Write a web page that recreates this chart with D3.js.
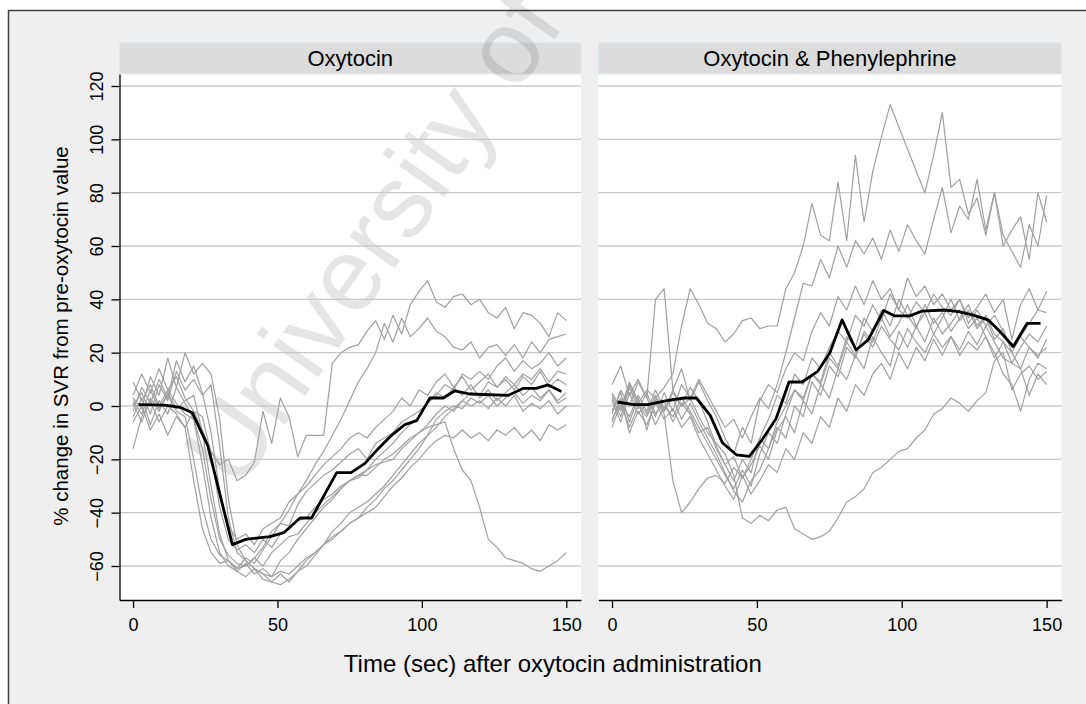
<!DOCTYPE html>
<html>
<head>
<meta charset="utf-8">
<script src="https://cdn.jsdelivr.net/npm/d3@7"></script>
<style>
  html, body { margin: 0; padding: 0; background: #fff; }
  svg { display: block; font-family: "Liberation Sans", Arial, Helvetica, sans-serif; }
</style>
</head>
<body>
<div id="chart"></div>
<script>
// sample times (sec) shared by every individual trace
const sampleTimes = [0, 3, 6, 9, 12, 15, 18, 21, 24, 27, 30, 33, 36, 39, 42, 45, 48, 51, 54, 57,
  60, 63, 66, 69, 72, 75, 78, 81, 84, 87, 90, 93, 96, 99, 102, 105, 108, 111, 114, 117,
  120, 123, 126, 129, 132, 135, 138, 141, 144, 147, 150];

const panelTitles = ["Oxytocin", "Oxytocin & Phenylephrine"];
const xTicks = [0, 50, 100, 150];
const yTicks = [-60, -40, -20, 0, 20, 40, 60, 80, 100, 120];

// % change in SVR, one array per patient (Oxytocin group)
const oxytocinTraces = [
  [4, 12, 5, 14, 6, 11, 3, -2, -9, -17, -22, -20, -28, -26, -21, -2, -14, 3, -4, -19,
   -11, -11, -11, 16, 20, 22, 23, 28, 32, 25, 34, 27, 38, 43, 47, 39, 37, 41, 42, 38,
   40, 35, 33, 37, 29, 35, 34, 31, 26, 35, 32],
  [2, -3, 6, -1, 4, -2, -4, -20, -38, -50, -56, -58, -61, -57, -59, -54, -49, -44, -39, -33,
   -28, -22, -17, -11, -5, 2, 9, 14, 20, 31, 24, 33, 26, 29, 33, 28, 26, 22, 21, 24,
   18, 22, 23, 19, 23, 18, 24, 20, 25, 26, 27],
  [-4, 3, -7, 2, -3, 7, 1, -5, -22, -42, -55, -60, -62, -59, -63, -61, -64, -58, -55, -50,
   -46, -42, -38, -35, -31, -28, -26, -24, -20, -17, -14, -10, -7, -4, 1, 4, 8, 6, 12, 10,
   13, 10, 15, 18, 13, 17, 14, 16, 20, 15, 18],
  [1, -6, 3, -2, 5, -1, 2, 4, -10, -30, -48, -58, -62, -64, -61, -65, -66, -63, -66, -62,
   -58, -55, -52, -49, -47, -44, -42, -38, -35, -31, -28, -24, -20, -16, -11, -8, -4, -1, 2, 5,
   4, 9, 7, 11, 8, 12, 10, 14, 9, 13, 12],
  [9, 2, 8, 0, 6, 1, -3, -5, -16, -35, -50, -56, -59, -60, -57, -53, -47, -44, -45, -37,
   -32, -29, -26, -24, -21, -18, -16, -20, -14, -12, -10, -6, -4, -2, 1, 5, 3, 7, 4, 8,
   3, 6, 2, 5, 8, 4, 7, 3, 6, 2, 5],
  [-6, 0, -9, -3, -11, -4, -8, -2, -4, -18, -38, -50, -54, -52, -55, -50, -53, -48, -46, -43,
   -42, -38, -35, -33, -30, -28, -27, -24, -22, -21, -20, -16, -13, -10, -7, -3, 0, -2, 2, 0,
   2, -1, 3, 0, 4, -2, 1, -1, 2, -3, 0],
  [0, 5, -3, 8, 2, 13, 6, 10, 4, 8, -15, -42, -55, -58, -61, -63, -64, -62, -63, -60,
   -57, -55, -52, -50, -47, -44, -42, -40, -38, -34, -30, -27, -23, -20, -16, -13, -11, -12, -9, -12,
   -10, -13, -9, -11, -8, -12, -9, -13, -7, -9, -7],
  [-16, -4, 2, -6, 0, -3, -8, -28, -46, -55, -59, -58, -61, -60, -57, -60, -55, -52, -49, -48,
   -44, -40, -37, -34, -31, -28, -26, -26, -23, -20, -18, -15, -12, -10, -8, -7, -6, -16, -24, -28,
   -38, -50, -53, -57, -58, -59, -61, -62, -60, -58, -55],
  [-2, 7, 1, 10, 3, 17, 9, 15, 5, -10, -32, -45, -50, -48, -52, -46, -44, -42, -36, -33,
   -30, -26, -22, -19, -16, -12, -10, -12, -8, -5, -2, 3, 0, 6, 4, 9, 12, 7, 11, 6,
   9, 12, 7, 10, 6, 11, 8, 13, 7, 10, 8],
  [3, -1, 11, 4, 18, 7, 20, 12, 16, 12, -5, -35, -52, -58, -61, -63, -66, -67, -65, -62,
   -60, -56, -52, -47, -44, -40, -38, -36, -33, -30, -26, -22, -18, -14, -11, -5, -2, 0, -1, 3,
   1, 4, 0, 3, 5, 1, 4, 2, 6, 1, 3]
];

// Oxytocin & Phenylephrine group (null = missing sample)
const comboTraces = [
  [4, -2, 8, 1, 6, 3, 7, 12, 30, 44, 38, 31, 29, 24, 27, 32, 33, 29, 30, 30,
   44, 50, 60, 76, 64, 62, 84, 62, 94, 69, 88, 101, 113, null, null, 88, 80, 94, 110, 82,
   85, 72, 78, 64, 80, 60, 66, 71, 55, 80, 69],
  [-3, 6, 0, 9, 3, -4, 5, -2, 8, 3, 10, 4, -2, -8, -5, -12, -4, 3, -1, 8,
   20, 33, 46, 45, 55, 48, 60, 52, 62, 57, 63, 55, 66, 58, 68, 62, 57, 70, 82, 65,
   75, 70, 85, 66, 80, 64, 58, 52, 68, 60, 79],
  [8, 15, 4, 10, 3, 40, 44, 6, 14, 2, 9, 2, -4, -12, -18, -8, -14, 2, 8, 5,
   14, 20, 17, 28, 35, 30, 41, 36, 45, 38, 47, 40, 44, 36, 48, 41, 45, 38, 42, 36,
   40, 33, 37, 42, 35, 40, 25, 38, 44, 36, 43],
  [-5, 2, -8, 0, -4, 3, -2, 5, 0, 7, 2, -6, -15, -22, -28, -20, -25, -12, -5, 4,
   1, 12, 8, 18, 14, 22, 28, 24, 34, 30, 38, 32, 42, 36, 33, 39, 35, 42, 37, 34,
   40, 31, 36, 30, 34, 28, 22, 26, 31, 36, 35],
  [2, -6, 5, -3, 1, -7, 0, -4, 3, -2, -8, -14, -20, -26, -31, -24, -30, -18, -10, -14,
   -3, 6, 2, 12, 9, 20, 15, 26, 22, 33, 28, 36, 30, 40, 34, 29, 38, 31, 35, 28,
   33, 38, 30, 34, 27, 24, 16, 22, 27, 24, 30],
  [-8, 1, -4, 4, -2, 6, -1, 3, -5, 1, -6, -12, -18, -25, -32, -36, -28, -24, -16, -8,
   -12, 0, -4, 9, 4, 15, 11, 22, 18, 28, 24, 33, 26, 31, 38, 30, 35, 27, 33, 40,
   32, 36, 29, 33, 25, 29, 20, 14, 22, 18, 25],
  [3, -4, 7, -1, 5, -3, 2, -6, 1, -3, -10, -8, -16, -22, -19, -27, -22, -15, -20, -9,
   -4, -10, 2, -3, 8, 3, 14, 10, 19, 14, 26, 20, 15, 28, 22, 30, 24, 33, 27, 31,
   36, 29, 33, 26, 20, 12, 8, -2, 10, 16, 14],
  [-6, 3, -10, -2, -7, 1, -5, -1, -8, -4, -12, -18, -24, -30, -35, -26, -33, -28, -22, -25,
   -16, -20, -10, -14, -4, -8, 3, -2, 8, 4, 12, 16, 10, 20, 14, 22, 17, 25, 19, 26,
   21, 28, 23, 30, 24, 18, 16, 14, 4, 12, 8],
  [5, -1, 9, 2, -3, 4, -2, 6, 0, 3, -4, -10, -14, -18, -26, -42, -44, -41, -43, -39,
   -38, -46, -48, -50, -49, -47, -42, -36, -34, -31, -25, -23, -20, -17, -16, -12, -9, -3, -1, 3,
   1, -2, 2, 5, 17, 20, 6, 12, 15, 10, 13],
  [-2, 5, -6, 3, -9, 2, -3, -28, -40, -36, -31, -27, -26, -29, -23, -27, -20, -12, -16, -6,
   0, 6, 3, 12, 8, 18, 14, 24, 19, 27, 22, 30, 25, 21, 29, 24, 20, 27, 22, 26,
   19, 24, 21, 26, 18, 24, 20, 26, 22, 19, 22]
];

// group means (black lines)
const oxytocinMeanTime = [1.9, 10.9, 16.3, 20.5, 25.9, 34.4, 39, 47.4, 52.2, 57.8, 61.8, 70.5, 75.5,
  80.3, 84.9, 89.5, 94.1, 98.2, 102.8, 107.4, 111.4, 116.6, 129.9, 135, 139.6, 143.7, 148.3];
const oxytocinMeanValue = [0.5, 0.3, -0.5, -2.5, -15, -52, -50, -49, -47.5, -42, -42, -25, -25,
  -21.5, -16, -11, -7, -5.5, 3, 3, 5.7, 4.5, 4, 6.6, 6.6, 7.9, 5.4];
const comboMeanTime = [1.9, 7.5, 12.3, 18.9, 24.9, 29.1, 33.9, 38.1, 42.9, 47.4, 51.9, 56.6, 61.1,
  65.6, 71, 75.2, 79.4, 84.2, 88.4, 93.8, 97.4, 102.8, 107, 114.8, 119.6, 124.4, 129.8, 133.9,
  138.5, 143.3, 147.9];
const comboMeanValue = [1.5, 0.5, 0.5, 2, 3, 3, -3.5, -13.8, -18.3, -18.9, -12.5, -4.8, 9,
  9, 13, 20, 32.3, 21, 24.8, 35.8, 33.8, 33.8, 35.6, 36, 35.4, 34.2, 32.3, 27.9,
  22.3, 31, 31];

const W = 1086, H = 704;
const svg = d3.select("#chart").append("svg").attr("width", W).attr("height", H);

svg.append("rect").attr("width", W).attr("height", H).attr("fill", "#fff");
// graph region (right and bottom edges fall outside the picture)
svg.append("rect")
  .attr("x", 8.5).attr("y", 10.5).attr("width", 1100).attr("height", 720)
  .attr("fill", "#efefef").attr("stroke", "#404040").attr("stroke-width", 1.5);

const y = d3.scaleLinear().domain([-72.75, 124.5]).range([600, 74]);

const panels = [
  {title: panelTitles[0], left: 119.5, right: 581, traces: oxytocinTraces,
   meanT: oxytocinMeanTime, meanV: oxytocinMeanValue},
  {title: panelTitles[1], left: 598.4, right: 1061.4, traces: comboTraces,
   meanT: comboMeanTime, meanV: comboMeanValue}
];
panels.forEach(p => {
  p.x = d3.scaleLinear().domain([-4.7, 155.1]).range([p.left, p.right]);
});

// plot backgrounds and strips
panels.forEach(p => {
  svg.append("rect")
    .attr("x", p.left).attr("y", 74).attr("width", p.right - p.left).attr("height", 526)
    .attr("fill", "#fff");
  svg.append("rect")
    .attr("x", p.left).attr("y", 42.7).attr("width", p.right - p.left).attr("height", 31.3)
    .attr("fill", "#dcdcdc").attr("stroke", "#e2e9ee").attr("stroke-width", 1);
  svg.append("text")
    .attr("x", (p.left + p.right) / 2).attr("y", 65.5)
    .attr("text-anchor", "middle").attr("font-size", 22).attr("fill", "#000")
    .text(p.title);
});

// watermark
svg.append("text")
  .attr("transform", "translate(238,492) rotate(-55)")
  .attr("font-size", 104).attr("fill", "#000").attr("fill-opacity", 0.1)
  .text("University of Cape Town");

const line = d3.line().x(d => d[0]).y(d => d[1]);

panels.forEach((p, pi) => {
  // gridlines
  svg.append("g").selectAll("line").data(yTicks).enter().append("line")
    .attr("x1", p.left).attr("x2", p.right)
    .attr("y1", d => y(d)).attr("y2", d => y(d))
    .attr("stroke", "#c8c8c8").attr("stroke-width", 1.3);

  // individual traces
  svg.append("g").selectAll("path").data(p.traces).enter().append("path")
    .attr("d", vals => line(sampleTimes
      .map((t, i) => [t, vals[i]])
      .filter(d => d[1] !== null)
      .map(d => [p.x(d[0]), y(d[1])])))
    .attr("fill", "none").attr("stroke", "#a0a0a0").attr("stroke-width", 1.2)
    .attr("stroke-linejoin", "round");

  // mean
  svg.append("path")
    .attr("d", line(p.meanT.map((t, i) => [p.x(t), y(p.meanV[i])])))
    .attr("fill", "none").attr("stroke", "#000").attr("stroke-width", 2.8)
    .attr("stroke-linejoin", "round");

  // x axis
  const gx = svg.append("g").attr("transform", "translate(0,600)")
    .call(d3.axisBottom(p.x).tickValues(xTicks).tickSize(8).tickPadding(10).tickSizeOuter(0));
  gx.attr("font-family", null).attr("font-size", 18);
  gx.select(".domain").attr("stroke", "#000").attr("stroke-width", 1.3);
  gx.selectAll(".tick line").attr("stroke", "#000").attr("stroke-width", 1.3);
  gx.selectAll(".tick text").attr("fill", "#000");

  if (pi === 0) {
    const gy = svg.append("g").attr("transform", `translate(${p.left},0)`)
      .call(d3.axisLeft(y).tickValues(yTicks).tickSize(8).tickSizeOuter(0));
    gy.attr("font-family", null).attr("font-size", 18);
    gy.select(".domain").attr("stroke", "#000").attr("stroke-width", 1.3);
    gy.selectAll(".tick line").attr("stroke", "#000").attr("stroke-width", 1.3);
    gy.selectAll(".tick text")
      .attr("transform", "rotate(-90)")
      .attr("x", 0).attr("y", -17).attr("dy", 0)
      .attr("text-anchor", "middle").attr("fill", "#000");
  }
});

// axis titles
svg.append("text")
  .attr("transform", "translate(68.4,336) rotate(-90)")
  .attr("text-anchor", "middle").attr("font-size", 20.5).attr("fill", "#000")
  .text("% change in SVR from pre-oxytocin value");

svg.append("text")
  .attr("x", 552.8).attr("y", 672)
  .attr("text-anchor", "middle").attr("font-size", 24).attr("fill", "#000")
  .text("Time (sec) after oxytocin administration");
</script>
</body>
</html>
